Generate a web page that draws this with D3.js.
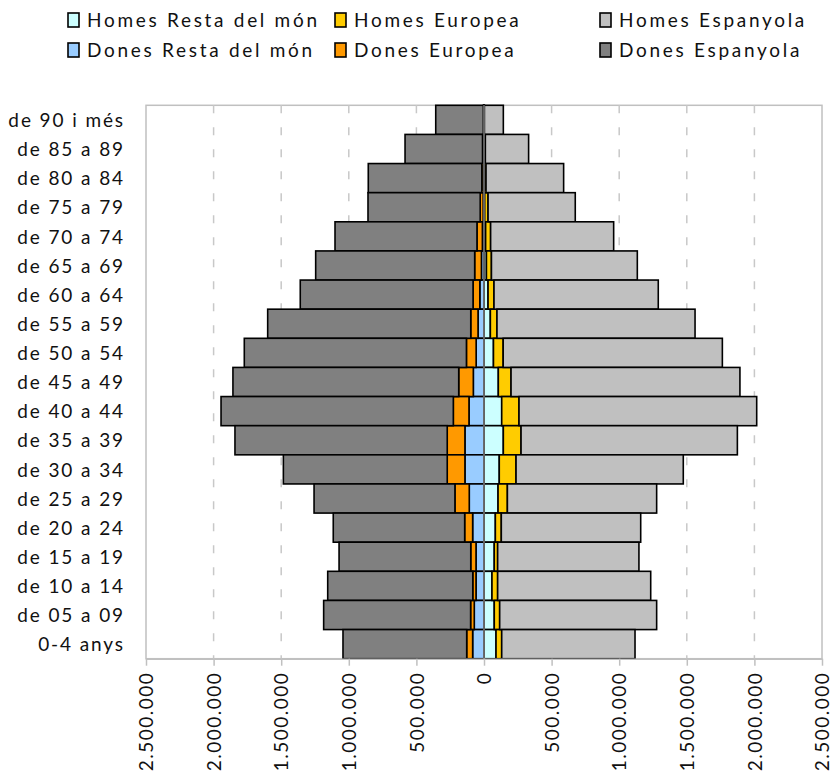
<!DOCTYPE html>
<html lang="ca">
<head>
<meta charset="utf-8">
<script src="https://cdn.jsdelivr.net/npm/d3@7"></script>
<style>
  body { margin: 0; background: #fff; }
  svg text { font-family: Lato, "Open Sans", sans-serif; fill: #111; }
</style>
</head>
<body>
<div id="chart"></div>
<script>
// age groups, top to bottom
const groups = ["de 90 i més", "de 85 a 89", "de 80 a 84", "de 75 a 79", "de 70 a 74", "de 65 a 69",
  "de 60 a 64", "de 55 a 59", "de 50 a 54", "de 45 a 49", "de 40 a 44", "de 35 a 39", "de 30 a 34",
  "de 25 a 29", "de 20 a 24", "de 15 a 19", "de 10 a 14", "de 05 a 09", "0-4 anys"];

// population in thousands
const donesResta     = [2, 3, 4, 6, 12, 19, 31, 44, 58, 79, 111, 141, 141, 109, 84, 59, 59, 72, 84];
const donesEuropea   = [3, 8, 12, 22, 40, 50, 50, 54, 72, 108, 116, 131, 131, 106, 59, 39, 24, 27, 44];
const donesEspanyola = [352, 573, 840, 830, 1050, 1176, 1278, 1502, 1643, 1670, 1718, 1570, 1212, 1042, 972, 974, 1073, 1087, 915];
const homesResta     = [1, 2, 3, 5, 12, 18, 30, 47, 70, 106, 131, 143, 113, 104, 84, 76, 59, 76, 89];
const homesEuropea   = [2, 8, 12, 25, 37, 37, 44, 49, 72, 94, 128, 131, 124, 69, 44, 25, 42, 40, 42];
const homesEspanyola = [140, 320, 574, 645, 910, 1079, 1215, 1465, 1621, 1693, 1758, 1600, 1237, 1104, 1031, 1045, 1132, 1161, 986];

const xTicks = [-2500000, -2000000, -1500000, -1000000, -500000, 0, 500000, 1000000, 1500000, 2000000, 2500000];

const width = 833, height = 772;
const plot = { left: 146, right: 822, top: 105.3, bottom: 658.7 };

const svg = d3.select("#chart").append("svg")
  .attr("width", width)
  .attr("height", height);

const x = d3.scaleLinear().domain([-2500000, 2500000]).range([plot.left, plot.right]);
const y = d3.scaleBand().domain(groups).range([plot.top, plot.bottom]).padding(0);

const fmt = d3.formatLocale({ decimal: ",", thousands: ".", grouping: [3], currency: ["", ""] }).format(",");

// plot frame
svg.append("rect")
  .attr("x", plot.left).attr("y", plot.top)
  .attr("width", plot.right - plot.left).attr("height", plot.bottom - plot.top)
  .attr("fill", "none").attr("stroke", "#c0c0c0").attr("stroke-width", 1.5);

// dashed grid
svg.append("g").selectAll("line")
  .data(xTicks.filter(d => d !== 0 && Math.abs(d) < 2500000))
  .join("line")
  .attr("x1", d => x(d)).attr("x2", d => x(d))
  .attr("y1", plot.top).attr("y2", plot.bottom)
  .attr("stroke", "#c8c8c8").attr("stroke-width", 1.5)
  .attr("stroke-dasharray", "8,14");

// build rows and stack each side
const rows = groups.map((g, i) => ({
  group: g,
  dResta: donesResta[i] * 1000, dEuropea: donesEuropea[i] * 1000, dEspanyola: donesEspanyola[i] * 1000,
  hResta: homesResta[i] * 1000, hEuropea: homesEuropea[i] * 1000, hEspanyola: homesEspanyola[i] * 1000
}));

const series = [
  { key: "hResta", label: "Homes Resta del món", color: "#ccffff" },
  { key: "hEuropea", label: "Homes Europea", color: "#ffcc00" },
  { key: "hEspanyola", label: "Homes Espanyola", color: "#c0c0c0" },
  { key: "dResta", label: "Dones Resta del món", color: "#99ccff" },
  { key: "dEuropea", label: "Dones Europea", color: "#ff9900" },
  { key: "dEspanyola", label: "Dones Espanyola", color: "#808080" }
];
const colorOf = Object.fromEntries(series.map(s => [s.key, s.color]));

const stackH = d3.stack().keys(["hResta", "hEuropea", "hEspanyola"])(rows);
const stackD = d3.stack().keys(["dResta", "dEuropea", "dEspanyola"])
  .value((d, k) => -d[k])
  .offset(d3.stackOffsetDiverging)(rows);

const bars = svg.append("g");
[...stackH, ...stackD].forEach(layer => {
  bars.append("g")
    .attr("fill", colorOf[layer.key])
    .selectAll("rect")
    .data(layer)
    .join("rect")
    .attr("x", d => x(Math.min(d[0], d[1])))
    .attr("y", d => y(d.data.group))
    .attr("width", d => Math.abs(x(d[1]) - x(d[0])))
    .attr("height", y.bandwidth())
    .attr("stroke", "#000")
    .attr("stroke-width", 1.6);
});

// zero axis line
svg.append("line")
  .attr("x1", x(0)).attr("x2", x(0))
  .attr("y1", plot.top).attr("y2", plot.bottom)
  .attr("stroke", "#808080").attr("stroke-width", 1.5);

// bottom axis
const xAxis = svg.append("g")
  .attr("transform", `translate(0,${plot.bottom})`)
  .call(d3.axisBottom(x).tickValues(xTicks).tickSizeInner(7).tickSizeOuter(0).tickFormat(d => fmt(Math.abs(d))));
xAxis.select(".domain").attr("stroke", "#c0c0c0").attr("stroke-width", 1.5);
xAxis.selectAll(".tick line").attr("stroke", "#c0c0c0").attr("stroke-width", 1.5);
xAxis.selectAll(".tick text")
  .attr("font-size", 19)
  .style("letter-spacing", "1.5px")
  .attr("transform", "rotate(-90)")
  .attr("text-anchor", "end")
  .attr("x", -13)
  .attr("y", 0)
  .attr("dy", "0.35em");

// category labels
svg.append("g").selectAll("text")
  .data(groups)
  .join("text")
  .attr("x", 125)
  .attr("y", d => y(d) + y.bandwidth() / 2)
  .attr("dy", "0.38em")
  .attr("text-anchor", "end")
  .attr("font-size", 19)
  .style("letter-spacing", "1.9px")
  .text(d => d);

// legend
const legendCols = [68, 335, 600];
const legendItems = [
  { s: series[0], col: 0, row: 0 }, { s: series[1], col: 1, row: 0 }, { s: series[2], col: 2, row: 0 },
  { s: series[3], col: 0, row: 1 }, { s: series[4], col: 1, row: 1 }, { s: series[5], col: 2, row: 1 }
];
const legend = svg.append("g").selectAll("g")
  .data(legendItems)
  .join("g")
  .attr("transform", d => `translate(${legendCols[d.col]},${20 + d.row * 30})`);
legend.append("rect")
  .attr("x", 0).attr("y", -7)
  .attr("width", 11).attr("height", 14)
  .attr("fill", d => d.s.color)
  .attr("stroke", "#000").attr("stroke-width", 1.6);
legend.append("text")
  .attr("x", 19).attr("y", 0).attr("dy", "0.36em")
  .attr("font-size", 19)
  .style("letter-spacing", "2.7px")
  .text(d => d.s.label);
</script>
</body>
</html>
